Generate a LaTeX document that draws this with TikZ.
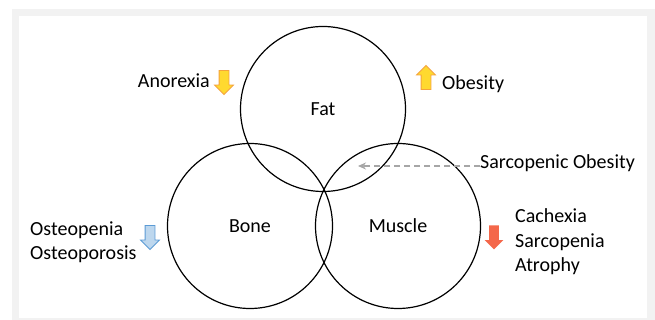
\documentclass[tikz,border=0pt]{standalone}
\usepackage{fontspec}
\setmainfont{Carlito}
\usepackage{tikz}
\usetikzlibrary{positioning, shapes.arrows, arrows.meta}

\definecolor{framegray}{HTML}{F2F2F2}
\definecolor{arryellow}{HTML}{FFD92F}
\definecolor{arrorange}{HTML}{F5A33C}
\definecolor{arrblue}{HTML}{BDD7EE}
\definecolor{arrblueline}{HTML}{5B9BD5}
\definecolor{arrred}{HTML}{F4674A}
\definecolor{dashgray}{HTML}{A6A6A6}

\begin{document}
\begin{tikzpicture}[x=1pt, y=1pt,
    circ/.style={draw, circle, line width=1.2pt, minimum size=165pt, inner sep=0pt},
    lbl/.style={font=\fontsize{20}{24.5}\selectfont, inner sep=0pt},
    blockarr/.style={single arrow, minimum height=24pt, inner sep=4.5pt,
        single arrow head extend=4.5pt, line width=0.8pt}]
    % frame
    \useasboundingbox (0,0) rectangle (655,320);
    \fill[framegray] (12,0) rectangle (655,311);
    \fill[white] (19,2) rectangle (647,304);
    % circles
    \node[circ, lbl] (fat) at (323,211) {Fat};
    \node[circ, lbl] (bone) at (250,94) {Bone};
    \node[circ, lbl] (muscle) at (398,94) {Muscle};
    % conditions
    \node[lbl, anchor=east] (anorexia) at (210,239) {Anorexia};
    \node[blockarr, rotate=-90, fill=arryellow, draw=arrorange] (anorexiaarr) at (224,240) {};
    \node[blockarr, rotate=90, fill=arryellow, draw=arrorange] (obesityarr) at (426,240) {};
    \node[lbl, anchor=west] (obesity) at (442,236) {Obesity};
    \node[lbl, anchor=west] (sarcob) at (480,157) {Sarcopenic Obesity};
    \coordinate (sarcobtip) at (358,154);
    \draw[dashgray, line width=1.3pt, dash pattern=on 6pt off 4pt, -{Stealth[length=8pt, width=7pt]}]
        (sarcob.west |- sarcobtip) -- (sarcobtip);
    \node[lbl, anchor=west, align=left] (osteo) at (30,78) {Osteopenia\\Osteoporosis};
    \node[blockarr, rotate=-90, fill=arrblue, draw=arrblueline] (osteoarr) at (150,85) {};
    \node[blockarr, rotate=-90, fill=arrred, draw=none] (cachexiaarr) at (494,85) {};
    \node[lbl, anchor=west, align=left] (cachexia) at (515,78) {Cachexia\\Sarcopenia\\Atrophy};
\end{tikzpicture}
\end{document}
